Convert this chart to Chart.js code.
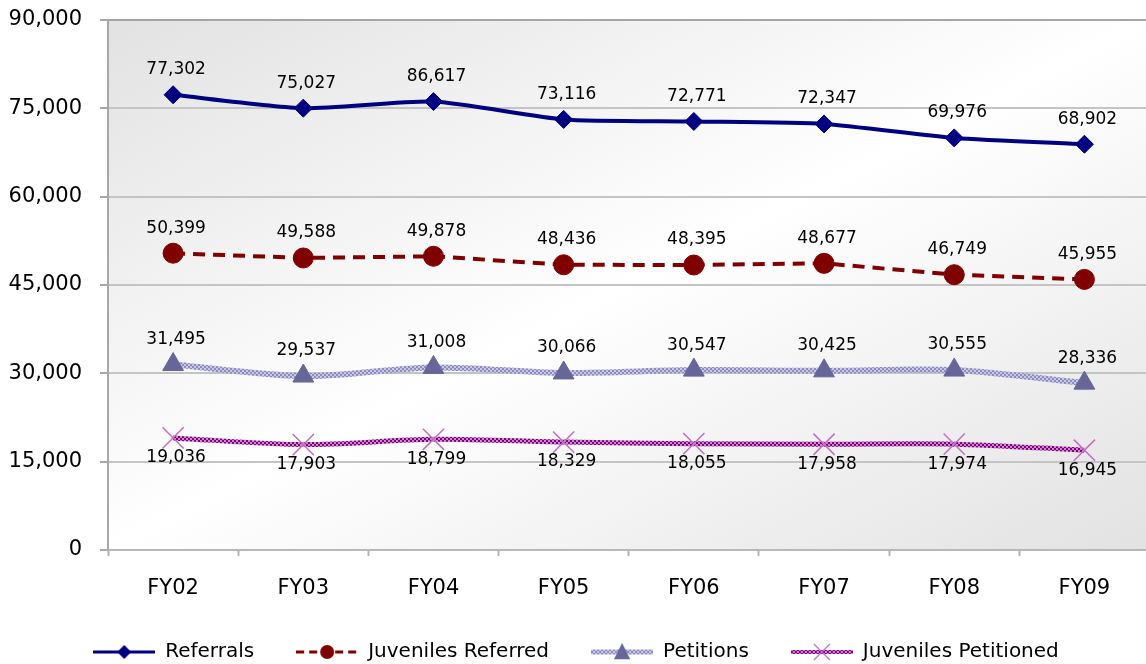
<!DOCTYPE html>
<html>
<head>
<meta charset="utf-8">
<title>Referrals and Petitions FY02-FY09</title>
<script src="https://cdn.jsdelivr.net/npm/chart.js@4.4.1/dist/chart.umd.min.js"></script>
<style>
  html, body { margin: 0; padding: 0; background: #fff; overflow: hidden; }
  #wrap { width: 1166px; height: 664px; overflow: hidden; }
</style>
</head>
<body>
<div id="wrap"><canvas id="chart" width="1166" height="672"></canvas></div>
<script>
// ---- data ----
const years = ["FY02", "FY03", "FY04", "FY05", "FY06", "FY07", "FY08", "FY09"];
const referrals = [77302, 75027, 76150, 73116, 72771, 72347, 69976, 68902];
// the FY04 label in the original says 86,617 although the point sits near 76k
const referralsText = ["77,302", "75,027", "86,617", "73,116", "72,771", "72,347", "69,976", "68,902"];
const juvenilesReferred = [50399, 49588, 49878, 48436, 48395, 48677, 46749, 45955];
const petitions = [31495, 29537, 31008, 30066, 30547, 30425, 30555, 28336];
const juvenilesPetitioned = [19036, 17903, 18799, 18329, 18055, 17958, 17974, 16945];
const yTicks = [0, 15000, 30000, 45000, 60000, 75000, 90000];

const FONT = '"DejaVu Sans", Verdana, sans-serif';
Chart.defaults.font.family = FONT;
Chart.defaults.color = "#000";

// little checker patterns for the "textured" Excel lines
function makePattern(c1, c2) {
  const p = document.createElement("canvas");
  p.width = 4; p.height = 4;
  const g = p.getContext("2d");
  g.fillStyle = c1; g.fillRect(0, 0, 4, 4);
  g.fillStyle = c2; g.fillRect(0, 0, 2, 2); g.fillRect(2, 2, 2, 2);
  return g.createPattern(p, "repeat");
}
const petitionsLine = makePattern("#8c8cc0", "#c8c8e6");
const juvPetLine = makePattern("#800080", "#cc8acc");

const fmt = (v) => v.toLocaleString("en-US");

const datasets = [
  {
    label: "Referrals",
    data: referrals,
    labelText: referralsText,
    labelOffset: -25,
    borderColor: "#000080",
    backgroundColor: "#000080",
    borderWidth: 4,
    tension: 0.2,
    pointStyle: "rectRot",
    pointRadius: 9,
    pointBorderWidth: 1,
    pointBackgroundColor: "#000080",
    pointBorderColor: "#000080",
    legendIcon: { stroke: "#000080", width: 3, dash: [], marker: "diamond", fill: "#000080", r: 7 },
  },
  {
    label: "Juveniles Referred",
    data: juvenilesReferred,
    labelText: juvenilesReferred.map(fmt),
    labelOffset: -25,
    borderColor: "#800000",
    backgroundColor: "#800000",
    borderWidth: 4,
    borderDash: [12, 8],
    tension: 0,
    pointStyle: "circle",
    pointRadius: 10,
    pointBorderWidth: 1,
    pointBackgroundColor: "#800000",
    pointBorderColor: "#800000",
    legendIcon: { stroke: "#800000", width: 3, dash: [8, 5], marker: "circle", fill: "#800000", r: 7 },
  },
  {
    label: "Petitions",
    data: petitions,
    labelText: petitions.map(fmt),
    labelOffset: -25,
    borderColor: petitionsLine,
    backgroundColor: "#666699",
    borderWidth: 6,
    tension: 0.3,
    pointStyle: "triangle",
    pointRadius: 12,
    pointBorderWidth: 1,
    pointBackgroundColor: "#666699",
    pointBorderColor: "#666699",
    legendIcon: { stroke: petitionsLine, width: 5, dash: [], marker: "triangle", fill: "#666699", r: 9 },
  },
  {
    label: "Juveniles Petitioned",
    data: juvenilesPetitioned,
    labelText: juvenilesPetitioned.map(fmt),
    labelOffset: 20,
    borderColor: juvPetLine,
    backgroundColor: "#800080",
    borderWidth: 5,
    tension: 0.3,
    pointStyle: "crossRot",
    pointRadius: 15,
    pointBorderWidth: 1.5,
    pointBackgroundColor: "#c070c0",
    pointBorderColor: "#c070c0",
    legendIcon: { stroke: juvPetLine, width: 4, dash: [], marker: "cross", fill: "#c070c0", r: 8 },
  },
];

// legend swatch: line with the marker in the middle
function legendSwatch(ic) {
  const c = document.createElement("canvas");
  c.width = 62; c.height = 22;
  const g = c.getContext("2d");
  const cy = 11;
  g.strokeStyle = ic.stroke;
  g.lineWidth = ic.width;
  g.setLineDash(ic.dash);
  g.beginPath(); g.moveTo(0, cy); g.lineTo(62, cy); g.stroke();
  g.setLineDash([]);
  g.fillStyle = ic.fill;
  g.strokeStyle = ic.fill;
  const x = 31, r = ic.r;
  g.beginPath();
  if (ic.marker === "diamond") {
    g.moveTo(x, cy - r); g.lineTo(x + r, cy); g.lineTo(x, cy + r); g.lineTo(x - r, cy); g.closePath(); g.fill();
  } else if (ic.marker === "circle") {
    g.arc(x, cy, r, 0, Math.PI * 2); g.fill();
  } else if (ic.marker === "triangle") {
    g.moveTo(x, cy - r); g.lineTo(x + r * 0.9, cy + r * 0.8); g.lineTo(x - r * 0.9, cy + r * 0.8); g.closePath(); g.fill();
  } else {
    g.lineWidth = 1.2;
    g.moveTo(x - r, cy - r); g.lineTo(x + r, cy + r); g.moveTo(x + r, cy - r); g.lineTo(x - r, cy + r); g.stroke();
  }
  return c;
}

// Excel-like diagonal gradient behind the plot
const plotBg = {
  id: "plotBg",
  beforeDraw(chart) {
    const { ctx, chartArea: a } = chart;
    ctx.save();
    ctx.translate(a.left, a.top);
    ctx.scale(a.right - a.left, a.bottom - a.top);
    const g = ctx.createLinearGradient(0, 0, 1, 1);
    g.addColorStop(0, "#e2e2e2");
    g.addColorStop(0.5, "#ffffff");
    g.addColorStop(1, "#e2e2e2");
    ctx.fillStyle = g;
    ctx.fillRect(0, 0, 1, 1);
    ctx.restore();
  },
};

// value labels above / below each point
const valueLabels = {
  id: "valueLabels",
  afterDatasetsDraw(chart) {
    const ctx = chart.ctx;
    ctx.save();
    ctx.font = "17px " + FONT;
    ctx.fillStyle = "#000";
    ctx.textAlign = "center";
    ctx.textBaseline = "middle";
    chart.data.datasets.forEach((ds, i) => {
      const meta = chart.getDatasetMeta(i);
      meta.data.forEach((pt, j) => {
        ctx.fillText(ds.labelText[j], pt.x + 3, pt.y + ds.labelOffset);
      });
    });
    ctx.restore();
  },
};

new Chart(document.getElementById("chart"), {
  type: "line",
  data: { labels: years, datasets: datasets },
  plugins: [plotBg, valueLabels],
  options: {
    responsive: false,
    animation: false,
    // right padding only narrows the legend row; the plot edge is set by the x scale
    layout: { padding: { top: 20, right: 14, left: 0, bottom: 0 } },
    plugins: {
      tooltip: { enabled: false },
      legend: {
        position: "bottom",
        labels: {
          font: { size: 20 },
          color: "#000",
          padding: 42,
          boxWidth: 62,
          boxHeight: 20,
          usePointStyle: true,
          pointStyleWidth: 62,
          generateLabels(chart) {
            return chart.data.datasets.map((ds, i) => ({
              text: ds.label,
              datasetIndex: i,
              pointStyle: legendSwatch(ds.legendIcon),
              fontColor: "#000",
              fillStyle: "#000",
              strokeStyle: "#000",
              lineWidth: 0,
              hidden: false,
            }));
          },
        },
      },
    },
    scales: {
      x: {
        offset: true,
        afterFit(scale) {
          scale.height = 50;
          scale.paddingLeft = 0;
          scale.paddingRight = 0;
        },
        grid: {
          offset: true,
          drawOnChartArea: false,
          drawTicks: true,
          tickLength: 6,
          tickColor: "#b4b4b4",
          tickWidth: 2,
        },
        border: { color: "#b8b8b8", width: 2 },
        ticks: { font: { size: 21 }, color: "#000", padding: 20 },
      },
      y: {
        min: 0,
        max: 90000,
        afterFit(scale) {
          scale.width = 108;
          scale.paddingTop = 0;
          scale.paddingBottom = 0;
        },
        afterBuildTicks(scale) { scale.ticks = yTicks.map((v) => ({ value: v })); },
        grid: {
          color: (c) => (c.tick && c.tick.value === 90000 ? "#a6a6a6" : "#c4c4c4"),
          lineWidth: 2,
          tickLength: 8,
          tickColor: "#a8a8a8",
          tickWidth: 2,
        },
        border: { color: "#a8a8a8", width: 2 },
        ticks: {
          font: { size: 21 },
          color: "#000",
          padding: 18,
          callback: (v) => fmt(v),
        },
      },
    },
  },
});
</script>
</body>
</html>
